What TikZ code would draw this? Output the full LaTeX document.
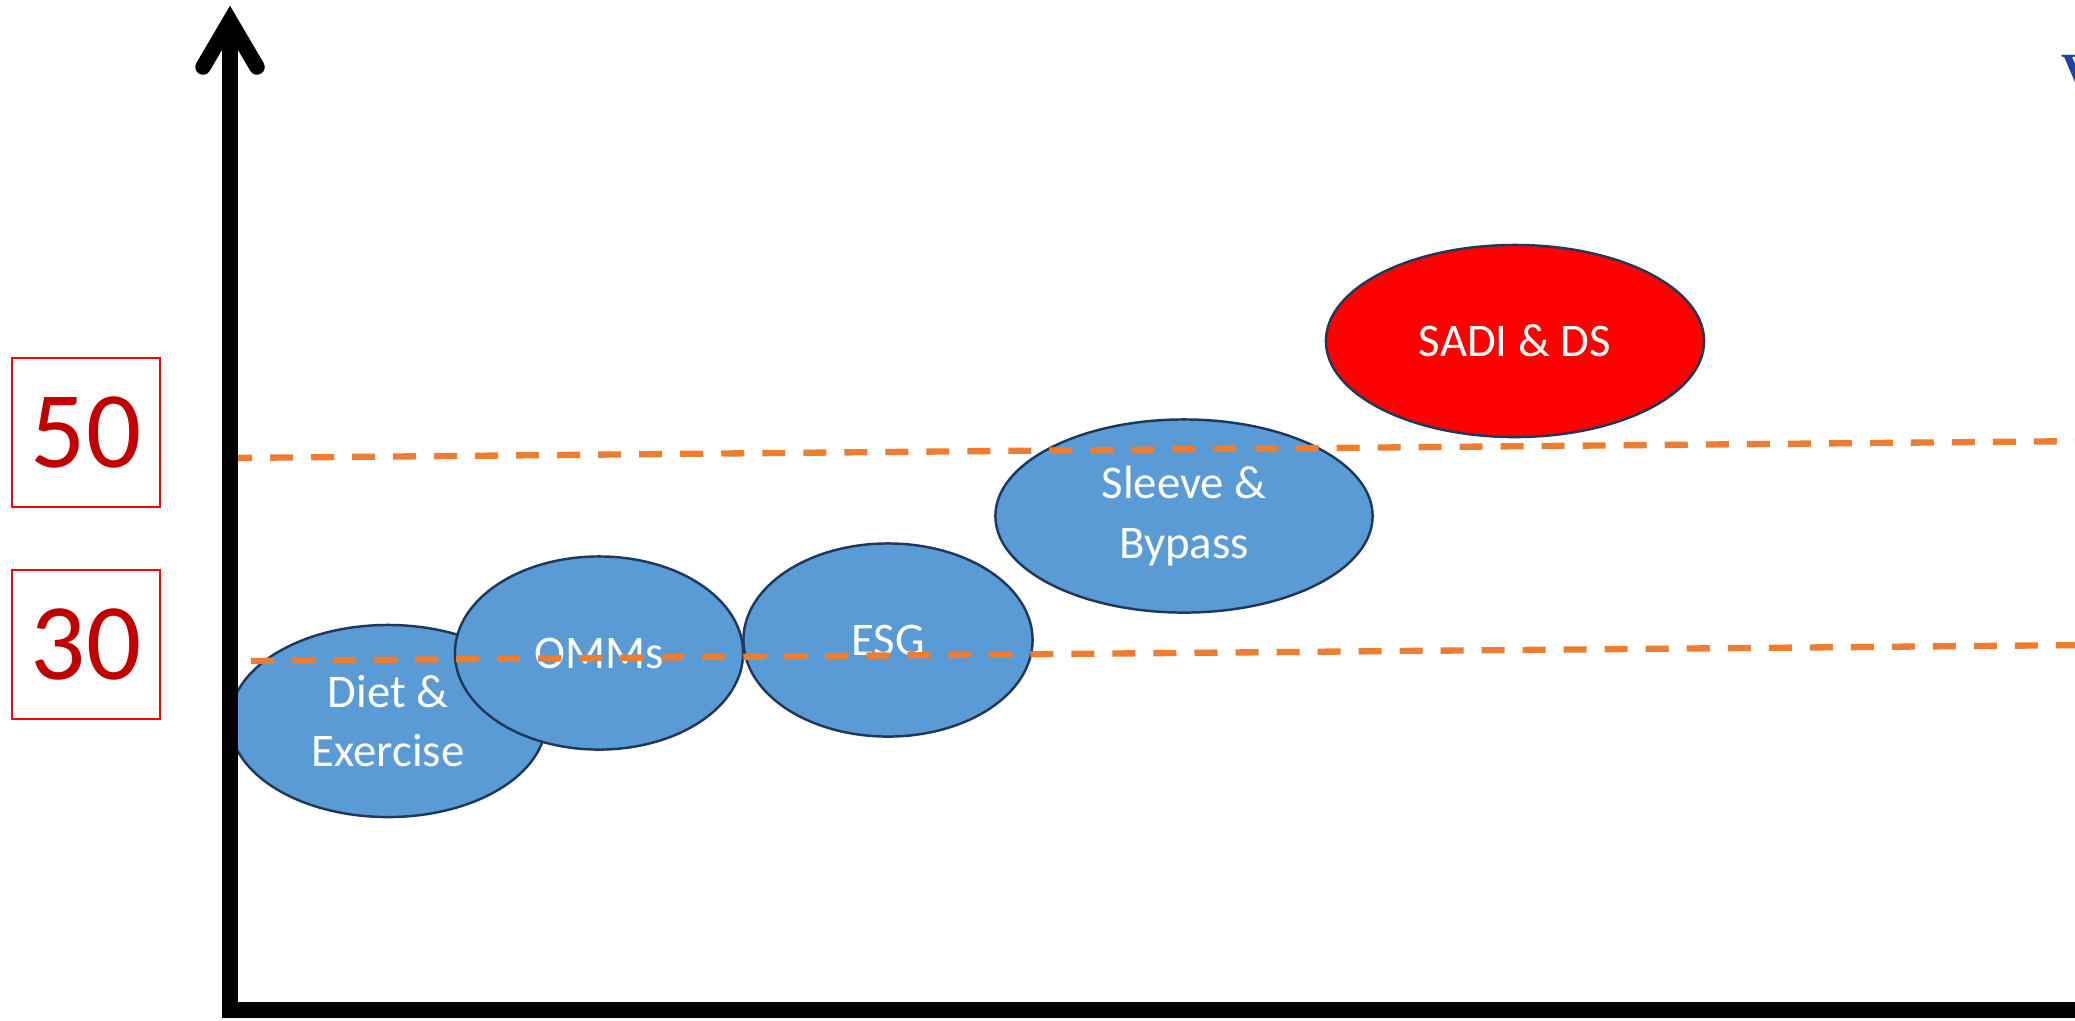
\documentclass[tikz,border=0pt]{standalone}
\usepackage{fontspec}
\setmainfont{Carlito}
\newfontfamily\serifv{Liberation Serif}
\usetikzlibrary{shapes.geometric}
\definecolor{ellblue}{RGB}{91,155,213}
\definecolor{ellborder}{RGB}{32,56,92}
\definecolor{dashorange}{RGB}{237,125,49}
\definecolor{numred}{RGB}{192,0,0}
\definecolor{vblue}{RGB}{36,64,160}
\begin{document}
\begin{tikzpicture}[x=0.01cm,y=-0.01cm,
  bubble/.style={ellipse, draw=ellborder, line width=0.7pt, fill=ellblue, text=white,
    inner sep=0pt, align=center, font=\fontsize{13.3}{16.8}\selectfont},
  level/.style={draw=dashorange, line width=1.8pt, dash pattern=on 0.23cm off 0.18cm},
  numbox/.style={draw=red, line width=0.5pt, minimum width=1.48cm, minimum height=1.49cm,
    inner sep=0pt, text=numred, font=\fontsize{31}{31}\selectfont},
  axisline/.style={line width=4.4pt, draw=black}]
\clip (0,0) rectangle (2075,1020);
\fill[white] (0,0) rectangle (2075,1020);

% number boxes
\node[numbox] (n50) at (86,432.5) {50};
\node[numbox] (n30) at (86,644.5) {30};

% bubbles
\node[bubble, minimum width=3.16cm, minimum height=1.92cm] (diet) at (388,721) {Diet \&\\Exercise};
\node[bubble, minimum width=2.88cm, minimum height=1.93cm] (omms) at (599,653) {OMMs};
\node[bubble, minimum width=2.89cm, minimum height=1.93cm] (esg) at (888,640) {ESG};
\node[bubble, minimum width=3.77cm, minimum height=1.93cm] (sleeve) at (1184,516) {Sleeve \&\\Bypass};
\node[bubble, fill=red, minimum width=3.78cm, minimum height=1.92cm] (sadi) at (1515,341) {SADI \& DS};

% dashed levels
\coordinate (u1) at (229,458);
\coordinate (u2) at (2090,441);
\coordinate (l1) at (251,661);
\coordinate (l2) at (2090,645);
\draw[level] (u1) -- (u2);
\draw[level] (l1) -- (l2);

% axes
\coordinate (origin) at (230,1010);
\coordinate (xend) at (2090,1010);
\coordinate (ytop) at (230,21);
\coordinate (barbL) at (203,67);
\coordinate (barbR) at (257,67);
\draw[axisline, line join=miter] (xend) -- (origin) -- (ytop);
\draw[axisline, line cap=round, line join=miter] (barbL) -- (ytop) -- (barbR);

% clipped letter at the right edge
\node[anchor=west, text=vblue, inner sep=0pt, font=\serifv\bfseries\fontsize{14}{14}\selectfont] (vfrag) at (2061,72) {V};
\end{tikzpicture}
\end{document}
